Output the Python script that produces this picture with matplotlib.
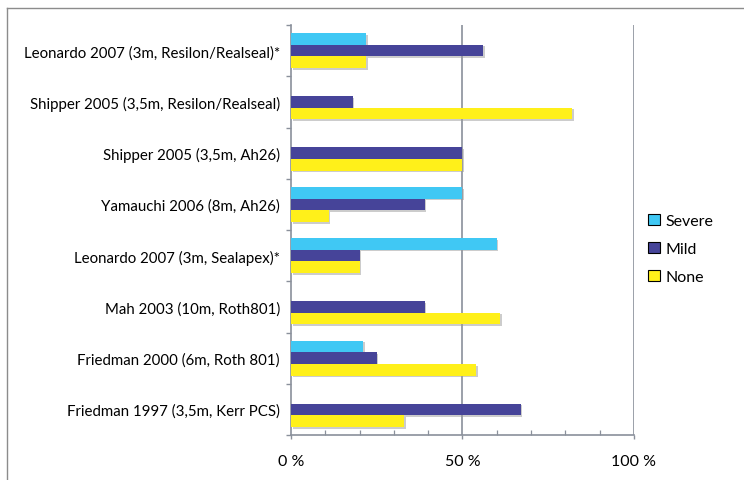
import matplotlib
matplotlib.use("Agg")
from matplotlib import pyplot as plt
from matplotlib.patches import Patch
from matplotlib.lines import Line2D
from matplotlib.ticker import MultipleLocator, FixedLocator
import matplotlib.patheffects as pe
import numpy as np

studies = [
    "Leonardo 2007 (3m, Resilon/Realseal)*",
    "Shipper 2005 (3,5m, Resilon/Realseal)",
    "Shipper 2005 (3,5m, Ah26)",
    "Yamauchi 2006 (8m, Ah26)",
    "Leonardo 2007 (3m, Sealapex)*",
    "Mah 2003 (10m, Roth801)",
    "Friedman 2000 (6m, Roth 801)",
    "Friedman 1997 (3,5m, Kerr PCS)",
]
severe = [22, 0, 0, 50, 60, 0, 21, 0]
mild = [56, 18, 50, 39, 20, 39, 25, 67]
none = [22, 82, 50, 11, 20, 61, 54, 33]

series_names = ["Severe", "Mild", "None"]
colors = ["#40C8F4", "#464499", "#FFF01A"]

plt.rcParams["font.family"] = ["Lato", "DejaVu Sans"]

fig = plt.figure(figsize=(7.44, 4.81), dpi=100)
W, H = 744, 481
ax = fig.add_axes([291 / W, 1 - 436 / H, (634 - 291) / W, (436 - 26) / H])

# outer frame (top and left edges visible)
fig.add_artist(Line2D([7 / W, 1], [1 - 9 / H, 1 - 9 / H], color="#8c8c8c", lw=1.0))
fig.add_artist(Line2D([7 / W, 7 / W], [0, 1 - 9 / H], color="#8c8c8c", lw=1.0))

grey = "#8a909b"
y = np.arange(len(studies))
h = 0.228
shadow = [pe.SimplePatchShadow(offset=(1.2, -1.2), shadow_rgbFace="#9a9a9a", alpha=0.5), pe.Normal()]
for k, (vals, c) in enumerate(zip([severe, mild, none], colors)):
    bars = ax.barh(y + (k - 1) * h, vals, height=h, color=c, zorder=3)
    for b in bars:
        if b.get_width() > 0:
            b.set_path_effects(shadow)

ax.set_xlim(0, 100)
ax.set_ylim(len(studies) - 0.5, -0.5)

for x in (50, 100):
    ax.axvline(x, color=grey, lw=1.2, zorder=1)

for s in ("top", "right"):
    ax.spines[s].set_visible(False)
for s in ("left", "bottom"):
    ax.spines[s].set_color(grey)
    ax.spines[s].set_linewidth(1.2)

ax.set_xticks([0, 50, 100])
ax.set_xticklabels(["0 %", "50 %", "100 %"], fontsize=11.5)
ax.xaxis.set_minor_locator(MultipleLocator(10))
ax.tick_params(axis="x", which="major", direction="out", length=3, width=1.0,
               color=grey, pad=11)
ax.tick_params(axis="x", which="minor", direction="in", length=3.5, width=0.9,
               color=grey)

ax.yaxis.set_major_locator(FixedLocator(np.arange(-0.5, len(studies), 1.0)))
ax.yaxis.set_minor_locator(FixedLocator(y))
ax.set_yticklabels([])
ax.set_yticklabels(studies, minor=True, fontsize=10.8)
ax.tick_params(axis="y", which="major", direction="out", length=3.5, width=1.0,
               color=grey)
ax.tick_params(axis="y", which="minor", length=0, pad=8)

handles = [Patch(facecolor=c, edgecolor="black", linewidth=0.8, label=n)
           for n, c in zip(series_names, colors)]
fig.legend(handles=handles, loc="center left", bbox_to_anchor=(634 / W, 1 - 250 / H),
           frameon=False, fontsize=11.5, handlelength=0.7, handleheight=0.7,
           handletextpad=0.4, labelspacing=0.85)

fig.savefig("out.png", dpi=100)
